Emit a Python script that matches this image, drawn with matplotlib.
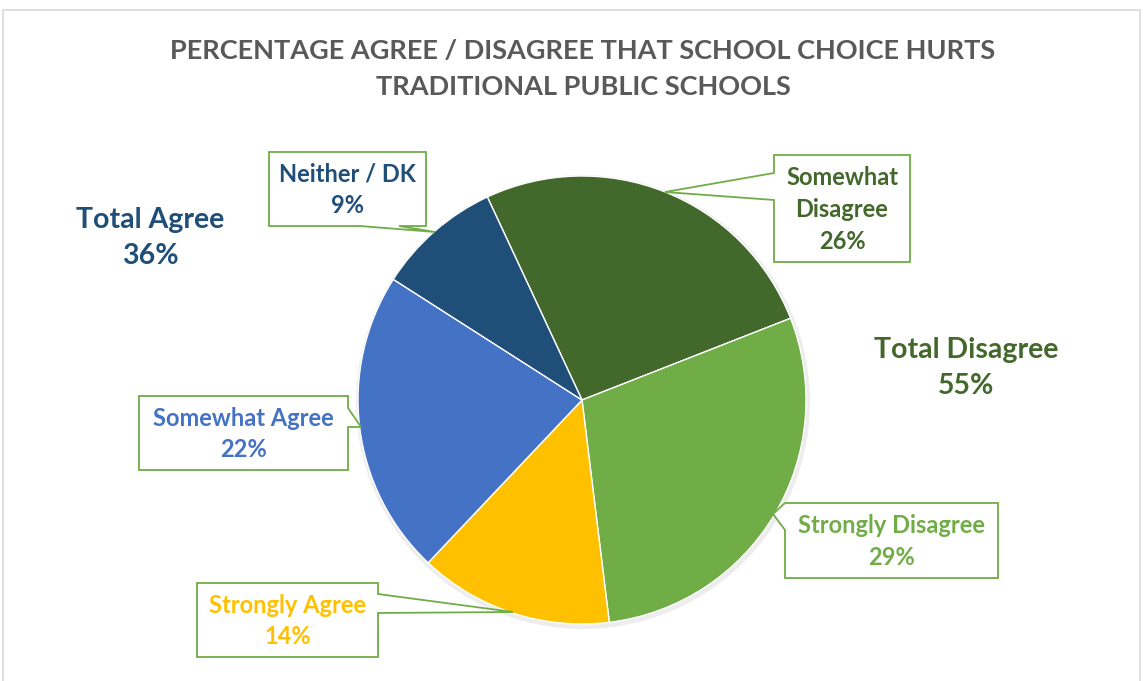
import matplotlib.pyplot as plt
from matplotlib.patches import Polygon, Rectangle

# data (clockwise from the top-left boundary)
labels = ['Somewhat\nDisagree', 'Strongly Disagree', 'Strongly Agree',
          'Somewhat Agree', 'Neither / DK']
values = [26, 29, 14, 22, 9]
colors = ['#43682B', '#70AD47', '#FFC000', '#4472C4', '#1F4E79']
totals = [('Total Agree', 36), ('Total Disagree', 55)]
total_colors = ['#1F4E79', '#43682B']
title = 'PERCENTAGE AGREE / DISAGREE THAT SCHOOL CHOICE HURTS\nTRADITIONAL PUBLIC SCHOOLS'

W, H = 1146, 681
plt.rcParams['font.family'] = ['Lato', 'DejaVu Sans']

fig = plt.figure(figsize=(W / 100, H / 100), dpi=100)
ax = fig.add_axes([0, 0, 1, 1])

def Y(y):
    # image row -> axes y
    return H - y

# chart border
ax.add_patch(Rectangle((3, Y(700)), 1137, 690, fill=False,
                       edgecolor='#D9D9D9', lw=1.2))

# pie
cx, cy, r = 582, 400, 224
ax.add_patch(plt.Circle((cx + 1, Y(cy + 2)), r + 3, color='#000000',
                        alpha=0.07, lw=0))
ax.pie(values, colors=colors, startangle=115, counterclock=False,
       center=(cx, Y(cy)), radius=r, frame=True,
       wedgeprops=dict(edgecolor='white', linewidth=1))
ax.set_xlim(0, W)
ax.set_ylim(0, H)
ax.set_aspect('equal')
ax.axis('off')

ax.text(W / 2 + 10, Y(69), title, ha='center', va='center', fontsize=19.5,
        fontweight='bold', color='#595959', linespacing=1.6)

# callouts: box (L, T, R, B), pointer side, attach positions, tip
callouts = [
    ((774, 155, 910, 262), 'left', 173, 200, (665, 192)),
    ((785, 503, 998, 578), 'left', 503, 530, (773, 514)),
    ((197, 583, 378, 657), 'right', 594, 613, (513, 612)),
    ((139, 396, 348, 470), 'right', 408, 427, (361, 427)),
    ((269, 152, 426, 226), 'bottom', 360, 399, (435, 232)),
]

def callout_poly(box, side, a1, a2, tip):
    L, T, R, B = box
    if side == 'left':
        pts = [(L, T), (R, T), (R, B), (L, B), (L, a2), tip, (L, a1)]
    elif side == 'right':
        pts = [(L, T), (R, T), (R, a1), tip, (R, a2), (R, B), (L, B)]
    else:
        pts = [(L, T), (R, T), (R, B), (a2, B), tip, (a1, B), (L, B)]
    return [(x, Y(y)) for x, y in pts]

for lab, val, col, (box, side, a1, a2, tip) in zip(labels, values, colors, callouts):
    ax.add_patch(Polygon(callout_poly(box, side, a1, a2, tip), closed=True,
                         facecolor='white', edgecolor='#70AD47', lw=1.3,
                         zorder=3))
    L, T, R, B = box
    ax.text((L + R) / 2, Y((T + B) / 2 + 1), '%s\n%d%%' % (lab, val),
            ha='center', va='center', fontsize=17, fontweight='bold',
            color=col, linespacing=1.45, zorder=4)

for (name, val), col, (x, y) in zip(totals, total_colors, [(150, 238), (966, 368)]):
    ax.text(x, Y(y), '%s\n%d%%' % (name, val), ha='center', va='center',
            fontsize=20.5, fontweight='bold', color=col, linespacing=1.5)

fig.savefig('out.png', dpi=100)
